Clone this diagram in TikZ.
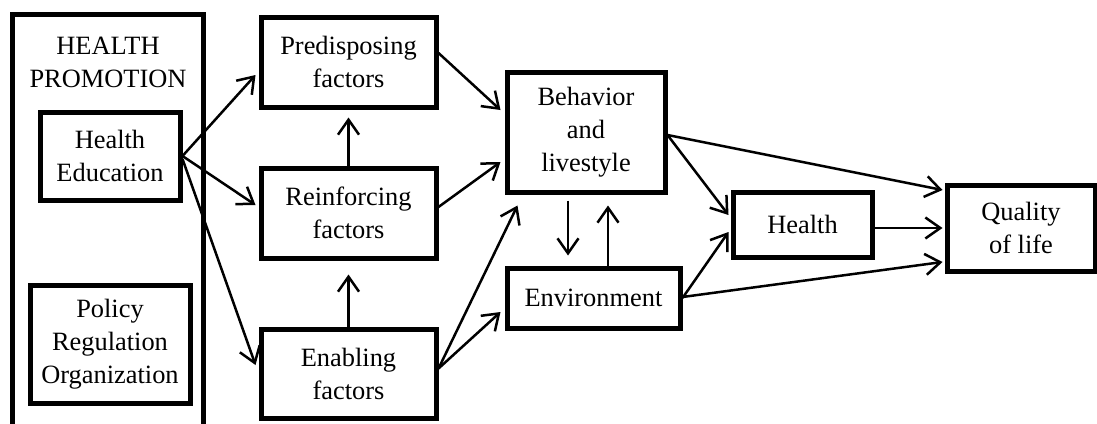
\documentclass[tikz,border=0pt]{standalone}
\usepackage{fontspec}
\setmainfont{Liberation Serif}
\usetikzlibrary{arrows.meta}
\tikzset{
  x=1pt, y=-1pt,
  box/.style={draw, line width=5pt, align=center, inner sep=0pt,
    font=\fontsize{26.4}{33}\selectfont},
  arr/.style={line width=2.5pt,
    -{Straight Barb[length=15pt,width=21pt,line width=2.5pt]}},
}
\begin{document}
\begin{tikzpicture}
\useasboundingbox (0,0) rectangle (1097,423);

% outer frame of the health promotion column, open at the bottom
\draw[line width=5pt] (12,440) -- (12,14) -- (203,14) -- (203,440);
\node[align=center, font=\fontsize{26.4}{33}\selectfont] (hptext) at (108,62) {HEALTH\\PROMOTION};

% boxes
\node[box, minimum width=140pt, minimum height=88pt] (he)  at (110,156)   {Health\\Education};
\node[box, minimum width=160pt, minimum height=118pt] (pol) at (110,344)  {Policy\\Regulation\\Organization};
\node[box, minimum width=175pt, minimum height=90pt] (pre) at (348.5,62)  {Predisposing\\factors};
\node[box, minimum width=175pt, minimum height=90pt] (rei) at (348.5,213) {Reinforcing\\factors};
\node[box, minimum width=175pt, minimum height=89pt] (ena) at (348.5,373.5) {Enabling\\factors};
\node[box, minimum width=158pt, minimum height=120pt] (beh) at (586,132)  {Behavior\\and\\livestyle};
\node[box, minimum width=173pt, minimum height=60pt] (env) at (593.5,298) {Environment};
\node[box, minimum width=139pt, minimum height=65pt] (hea) at (802.5,224.5) {Health};
\node[box, minimum width=148pt, minimum height=86pt] (qol) at (1021,228)  {Quality\\of life};

% connectors out of health education
\draw[arr] (he.east) -- ([xshift=-3pt,yshift=-13pt]pre.west);
\draw[arr] (he.east) -- ([xshift=-3pt,yshift=8pt]rei.west);
\draw[arr] ([yshift=-3pt]he.east) -- ([xshift=-3pt,yshift=8.5pt]ena.west);

% vertical links between the factor boxes
\draw[arr] (rei.north) -- ([yshift=-8pt]pre.south);
\draw[arr] (ena.north) -- ([yshift=-14pt]rei.south);

% factors into behavior and environment
\draw[arr] ([yshift=9pt]pre.east) -- ([xshift=-4pt,yshift=22pt]beh.west);
\draw[arr] ([yshift=6pt]rei.east) -- ([xshift=-4pt,yshift=-30pt]beh.west);
\draw[arr] ([yshift=5pt]ena.east) -- ([xshift=13pt,yshift=-11pt]beh.south west);
\draw[arr] ([yshift=5pt]ena.east) -- ([xshift=-4pt,yshift=-14pt]env.west);

% behavior <-> environment
\draw[arr] ([xshift=-18pt,yshift=-6pt]beh.south) -- ([xshift=-25.5pt,yshift=10pt]env.north);
\draw[arr] ([xshift=14.5pt]env.north) -- ([xshift=22pt,yshift=-11pt]beh.south);

% into health
\draw[arr] ([yshift=-3pt]beh.east) -- ([xshift=-2pt,yshift=9.5pt]hea.west);
\draw[arr] (env.east) -- ([xshift=-2pt,yshift=-7.5pt]hea.west);

% into quality of life
\draw[arr] ([yshift=-3pt]beh.east) -- ([xshift=-2pt,yshift=38pt]qol.west);
\draw[arr] ([yshift=-3.5pt]hea.east) -- ([xshift=-2pt]qol.west);
\draw[arr] ([yshift=1pt]env.east) -- ([xshift=-2pt,yshift=-34pt]qol.west);
\end{tikzpicture}
\end{document}
